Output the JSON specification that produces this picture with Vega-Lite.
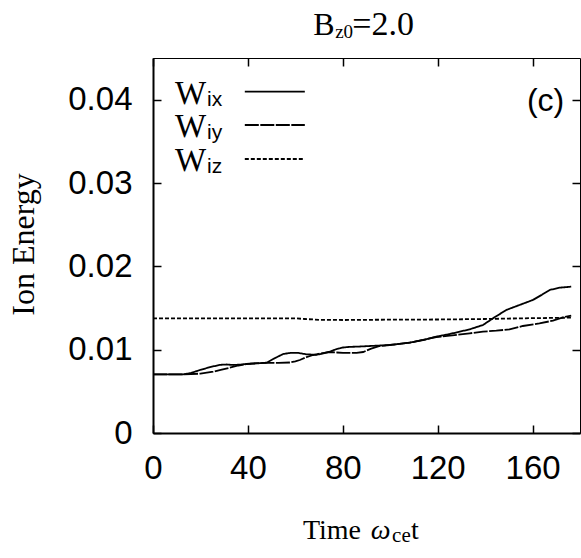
{
  "$schema": "https://vega.github.io/schema/vega-lite/v6.json",
  "width": 427,
  "height": 375,
  "autosize": {"type": "none"},
  "padding": {"left": 153, "top": 58, "right": 1, "bottom": 125},
  "background": "white",
  "config": {"view": {"stroke": "black", "strokeWidth": 1}},
  "datasets": {
    "energy": [
      {"series": "W_ix", "t": 0, "v": 0.00704},
      {"series": "W_ix", "t": 12.8, "v": 0.00704},
      {"series": "W_ix", "t": 16, "v": 0.0072},
      {"series": "W_ix", "t": 19.8, "v": 0.00756},
      {"series": "W_ix", "t": 24, "v": 0.0079},
      {"series": "W_ix", "t": 28.2, "v": 0.00818},
      {"series": "W_ix", "t": 31, "v": 0.00822},
      {"series": "W_ix", "t": 33.8, "v": 0.00816},
      {"series": "W_ix", "t": 36.5, "v": 0.0082},
      {"series": "W_ix", "t": 39.4, "v": 0.00828},
      {"series": "W_ix", "t": 44, "v": 0.00836},
      {"series": "W_ix", "t": 47.9, "v": 0.00844},
      {"series": "W_ix", "t": 51.5, "v": 0.009},
      {"series": "W_ix", "t": 54.9, "v": 0.00948},
      {"series": "W_ix", "t": 58, "v": 0.00962},
      {"series": "W_ix", "t": 61, "v": 0.00962},
      {"series": "W_ix", "t": 64.7, "v": 0.00944},
      {"series": "W_ix", "t": 68.9, "v": 0.00938},
      {"series": "W_ix", "t": 72, "v": 0.00956},
      {"series": "W_ix", "t": 74.5, "v": 0.00976},
      {"series": "W_ix", "t": 77.5, "v": 0.01008},
      {"series": "W_ix", "t": 80.1, "v": 0.01026},
      {"series": "W_ix", "t": 83, "v": 0.01034},
      {"series": "W_ix", "t": 85.8, "v": 0.01036},
      {"series": "W_ix", "t": 91.4, "v": 0.01044},
      {"series": "W_ix", "t": 99.8, "v": 0.01056},
      {"series": "W_ix", "t": 108.2, "v": 0.01084},
      {"series": "W_ix", "t": 113.8, "v": 0.01116},
      {"series": "W_ix", "t": 119.4, "v": 0.01156},
      {"series": "W_ix", "t": 125.1, "v": 0.01188},
      {"series": "W_ix", "t": 133.5, "v": 0.01244},
      {"series": "W_ix", "t": 139.1, "v": 0.01296},
      {"series": "W_ix", "t": 143.3, "v": 0.01376},
      {"series": "W_ix", "t": 148.9, "v": 0.01476},
      {"series": "W_ix", "t": 154.5, "v": 0.01536},
      {"series": "W_ix", "t": 160.1, "v": 0.01596},
      {"series": "W_ix", "t": 164, "v": 0.0166},
      {"series": "W_ix", "t": 167.2, "v": 0.01716},
      {"series": "W_ix", "t": 171.4, "v": 0.01744},
      {"series": "W_ix", "t": 176.3, "v": 0.01756},
      {"series": "W_iy", "t": 0, "v": 0.00704},
      {"series": "W_iy", "t": 12.8, "v": 0.00704},
      {"series": "W_iy", "t": 20, "v": 0.00712},
      {"series": "W_iy", "t": 25.4, "v": 0.00736},
      {"series": "W_iy", "t": 29, "v": 0.0076},
      {"series": "W_iy", "t": 32.4, "v": 0.00784},
      {"series": "W_iy", "t": 36, "v": 0.0081},
      {"series": "W_iy", "t": 39.4, "v": 0.00828},
      {"series": "W_iy", "t": 44, "v": 0.00838},
      {"series": "W_iy", "t": 47.9, "v": 0.00842},
      {"series": "W_iy", "t": 53, "v": 0.00842},
      {"series": "W_iy", "t": 57.7, "v": 0.00846},
      {"series": "W_iy", "t": 60, "v": 0.0086},
      {"series": "W_iy", "t": 61.9, "v": 0.00876},
      {"series": "W_iy", "t": 64.7, "v": 0.0091},
      {"series": "W_iy", "t": 67.5, "v": 0.00936},
      {"series": "W_iy", "t": 71, "v": 0.00956},
      {"series": "W_iy", "t": 74.5, "v": 0.00972},
      {"series": "W_iy", "t": 77.5, "v": 0.00966},
      {"series": "W_iy", "t": 80.1, "v": 0.00962},
      {"series": "W_iy", "t": 85.8, "v": 0.00962},
      {"series": "W_iy", "t": 88.6, "v": 0.00972},
      {"series": "W_iy", "t": 92, "v": 0.01012},
      {"series": "W_iy", "t": 95.6, "v": 0.01044},
      {"series": "W_iy", "t": 99.8, "v": 0.01056},
      {"series": "W_iy", "t": 108.2, "v": 0.01084},
      {"series": "W_iy", "t": 113.8, "v": 0.01116},
      {"series": "W_iy", "t": 119.4, "v": 0.01152},
      {"series": "W_iy", "t": 125.1, "v": 0.01168},
      {"series": "W_iy", "t": 133.5, "v": 0.01196},
      {"series": "W_iy", "t": 139.1, "v": 0.01216},
      {"series": "W_iy", "t": 144.7, "v": 0.01228},
      {"series": "W_iy", "t": 150.3, "v": 0.01244},
      {"series": "W_iy", "t": 155.9, "v": 0.01284},
      {"series": "W_iy", "t": 162.9, "v": 0.01316},
      {"series": "W_iy", "t": 168.6, "v": 0.01348},
      {"series": "W_iy", "t": 172.8, "v": 0.01388},
      {"series": "W_iy", "t": 176.3, "v": 0.01408},
      {"series": "W_iz", "t": 0, "v": 0.01376},
      {"series": "W_iz", "t": 60, "v": 0.01376},
      {"series": "W_iz", "t": 64, "v": 0.01368},
      {"series": "W_iz", "t": 70, "v": 0.01358},
      {"series": "W_iz", "t": 80, "v": 0.01356},
      {"series": "W_iz", "t": 100, "v": 0.0136},
      {"series": "W_iz", "t": 120, "v": 0.01362},
      {"series": "W_iz", "t": 140, "v": 0.01368},
      {"series": "W_iz", "t": 155, "v": 0.01376},
      {"series": "W_iz", "t": 176.3, "v": 0.01384}
    ]
  },
  "resolve": {"axis": {"x": "independent", "y": "independent"}},
  "layer": [
    {
      "data": {"name": "energy"},
      "mark": {"type": "line", "color": "black", "strokeWidth": 1.8},
      "encoding": {
        "x": {
          "field": "t", "type": "quantitative",
          "scale": {"domain": [0, 180], "nice": false, "zero": false},
          "axis": {
            "orient": "bottom", "values": [0, 40, 80, 120, 160], "title": null, "grid": false,
            "tickSize": -8, "tickColor": "black", "tickWidth": 1.5,
            "domainColor": "black", "domainWidth": 2,
            "labelFont": "Liberation Sans", "labelFontSize": 33, "labelColor": "black",
            "labelPadding": 27, "labelFlush": false, "labelOverlap": false
          }
        },
        "y": {
          "field": "v", "type": "quantitative",
          "scale": {"domain": [0, 0.045], "nice": false},
          "axis": {
            "orient": "left", "values": [0, 0.01, 0.02, 0.03, 0.04], "grid": false,
            "title": "Ion Energy",
            "titleFont": "Liberation Serif", "titleFontSize": 32, "titleFontWeight": "normal",
            "titleColor": "black", "titleAngle": -90, "titleBaseline": "alphabetic",
            "titleAlign": "center", "titleX": -120, "titleY": 186,
            "tickSize": -8, "tickColor": "black", "tickWidth": 1.5,
            "domainColor": "black", "domainWidth": 2,
            "labelFont": "Liberation Sans", "labelFontSize": 33, "labelColor": "black",
            "labelPadding": 29, "labelFlush": false, "labelOverlap": false,
            "labelExpr": "datum.value == 0 ? '0' : format(datum.value, '.2f')"
          }
        },
        "strokeDash": {
          "field": "series", "type": "nominal",
          "scale": {"domain": ["W_ix", "W_iy", "W_iz"], "range": [[1, 0], [14, 1.5], [4, 2]]},
          "legend": null
        }
      }
    },
    {
      "data": {"name": "energy"},
      "mark": {"type": "point", "opacity": 0},
      "encoding": {
        "x": {
          "field": "t", "type": "quantitative",
          "axis": {
            "orient": "top", "values": [0, 40, 80, 120, 160], "title": null, "grid": false,
            "labels": false, "domain": false,
            "tickSize": -8, "tickColor": "black", "tickWidth": 1.5
          }
        },
        "y": {
          "field": "v", "type": "quantitative",
          "axis": {
            "orient": "right", "values": [0, 0.01, 0.02, 0.03, 0.04], "title": null, "grid": false,
            "labels": false, "domain": false,
            "tickSize": -8, "tickColor": "black", "tickWidth": 1.5
          }
        }
      }
    },
    {
      "data": {"values": [{}]},
      "mark": {"type": "rule", "color": "black", "strokeWidth": 1.8},
      "encoding": {
        "x": {"datum": 38.7, "type": "quantitative", "axis": null},
        "x2": {"datum": 64},
        "y": {"datum": 0.04096, "type": "quantitative", "axis": null}
      }
    },
    {
      "data": {"values": [{}]},
      "mark": {"type": "rule", "color": "black", "strokeWidth": 1.8, "strokeDash": [14, 1.5]},
      "encoding": {
        "x": {"datum": 38.7, "type": "quantitative", "axis": null},
        "x2": {"datum": 64},
        "y": {"datum": 0.03696, "type": "quantitative", "axis": null}
      }
    },
    {
      "data": {"values": [{}]},
      "mark": {"type": "rule", "color": "black", "strokeWidth": 1.8, "strokeDash": [4, 2]},
      "encoding": {
        "x": {"datum": 38.7, "type": "quantitative", "axis": null},
        "x2": {"datum": 64},
        "y": {"datum": 0.03288, "type": "quantitative", "axis": null}
      }
    },
    {
      "data": {"values": [{}]},
      "mark": {"type": "text", "text": ["W", "W", "W"], "lineHeight": 33.5, "align": "left", "baseline": "alphabetic", "font": "Liberation Serif", "fontSize": 33, "color": "black"},
      "encoding": {
        "x": {"datum": 9.26, "type": "quantitative", "axis": null},
        "y": {"datum": 0.03954, "type": "quantitative", "axis": null}
      }
    },
    {
      "data": {"values": [{}]},
      "mark": {"type": "text", "text": ["ix", "iy", "iz"], "lineHeight": 33.5, "align": "left", "baseline": "alphabetic", "font": "Liberation Sans", "fontSize": 21, "color": "black", "dy": 2},
      "encoding": {
        "x": {"datum": 22.8, "type": "quantitative", "axis": null},
        "y": {"datum": 0.03954, "type": "quantitative", "axis": null}
      }
    },
    {
      "data": {"values": [{}]},
      "mark": {"type": "text", "text": "(c)", "align": "center", "baseline": "middle", "font": "Liberation Sans", "fontSize": 32, "color": "black"},
      "encoding": {
        "x": {"datum": 165.5, "type": "quantitative", "axis": null},
        "y": {"datum": 0.03984, "type": "quantitative", "axis": null}
      }
    },
    {
      "data": {"values": [{}]},
      "mark": {"type": "text", "text": "B", "align": "left", "baseline": "alphabetic", "font": "Liberation Serif", "fontSize": 32, "color": "black", "dy": -23},
      "encoding": {
        "x": {"datum": 67.5, "type": "quantitative", "axis": null},
        "y": {"datum": 0.045, "type": "quantitative", "axis": null}
      }
    },
    {
      "data": {"values": [{}]},
      "mark": {"type": "text", "text": "z0", "align": "left", "baseline": "alphabetic", "font": "Liberation Serif", "fontSize": 19, "color": "black", "dy": -20.5},
      "encoding": {
        "x": {"datum": 76.8, "type": "quantitative", "axis": null},
        "y": {"datum": 0.045, "type": "quantitative", "axis": null}
      }
    },
    {
      "data": {"values": [{}]},
      "mark": {"type": "text", "text": "=2.0", "align": "left", "baseline": "alphabetic", "font": "Liberation Serif", "fontSize": 34, "color": "black", "dy": -23},
      "encoding": {
        "x": {"datum": 84.0, "type": "quantitative", "axis": null},
        "y": {"datum": 0.045, "type": "quantitative", "axis": null}
      }
    },
    {
      "data": {"values": [{}]},
      "mark": {"type": "text", "text": "Time", "align": "left", "baseline": "alphabetic", "font": "Liberation Serif", "fontSize": 28, "color": "black", "dy": 106},
      "encoding": {
        "x": {"datum": 63.2, "type": "quantitative", "axis": null},
        "y": {"datum": 0, "type": "quantitative", "axis": null}
      }
    },
    {
      "data": {"values": [{}]},
      "mark": {"type": "text", "text": "ω", "align": "left", "baseline": "alphabetic", "font": "Liberation Serif", "fontStyle": "italic", "fontSize": 28, "color": "black", "dy": 106},
      "encoding": {
        "x": {"datum": 91.8, "type": "quantitative", "axis": null},
        "y": {"datum": 0, "type": "quantitative", "axis": null}
      }
    },
    {
      "data": {"values": [{}]},
      "mark": {"type": "text", "text": "ce", "align": "left", "baseline": "alphabetic", "font": "Liberation Serif", "fontSize": 21, "color": "black", "dy": 108.5},
      "encoding": {
        "x": {"datum": 100.8, "type": "quantitative", "axis": null},
        "y": {"datum": 0, "type": "quantitative", "axis": null}
      }
    },
    {
      "data": {"values": [{}]},
      "mark": {"type": "text", "text": "t", "align": "left", "baseline": "alphabetic", "font": "Liberation Serif", "fontSize": 28, "color": "black", "dy": 106},
      "encoding": {
        "x": {"datum": 108.8, "type": "quantitative", "axis": null},
        "y": {"datum": 0, "type": "quantitative", "axis": null}
      }
    }
  ]
}
